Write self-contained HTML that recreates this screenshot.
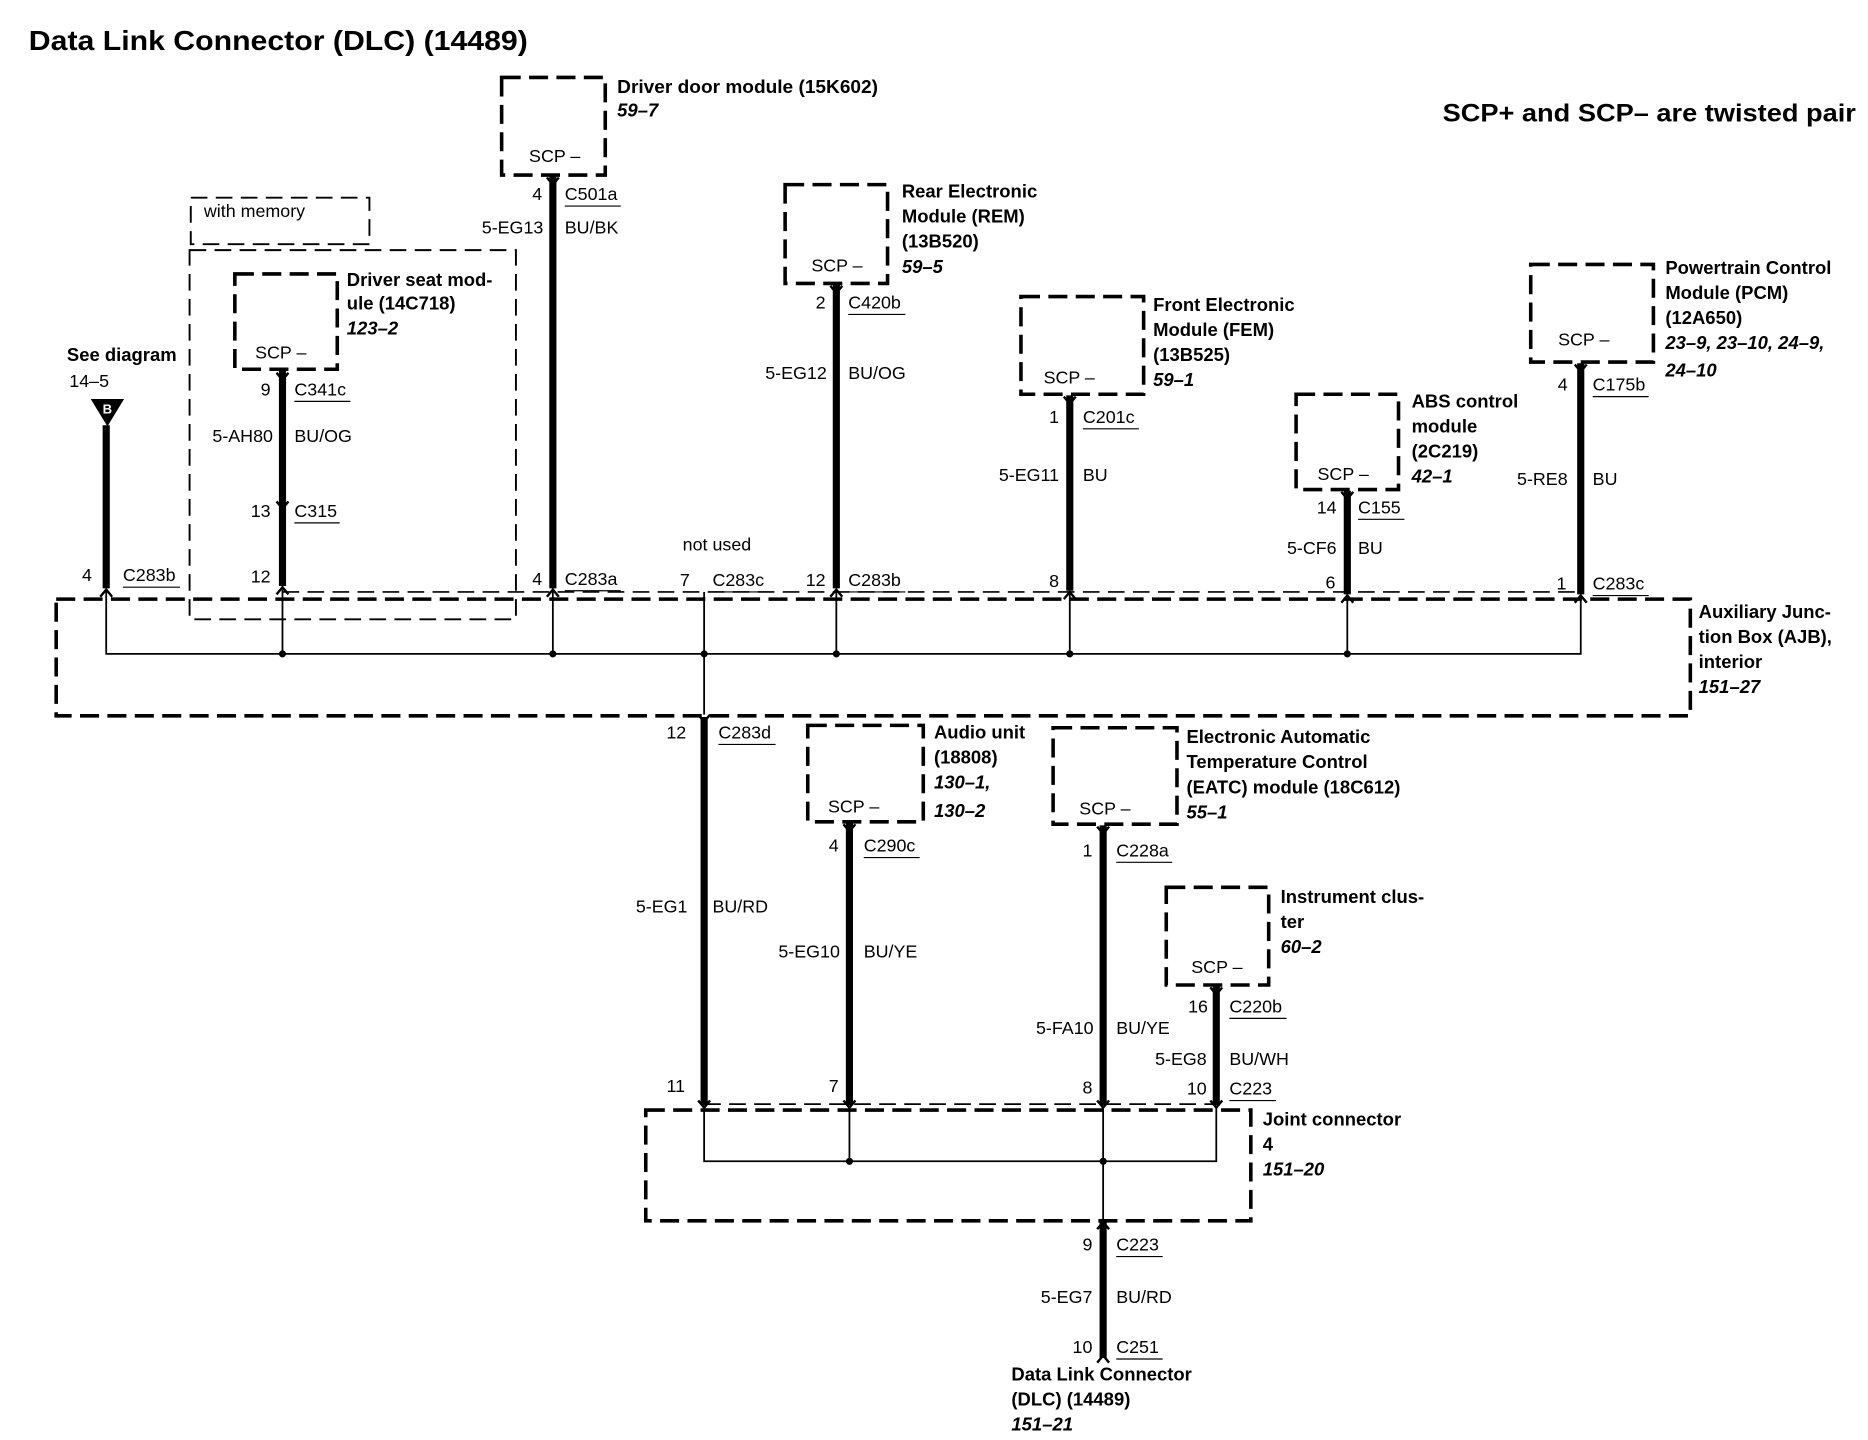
<!DOCTYPE html>
<html><head><meta charset="utf-8">
<style>
html,body{margin:0;padding:0;background:#fff;}
svg{display:block;}
text{font-family:"Liberation Sans",Arial,sans-serif;font-size:15px;fill:#000;}
.b{font-weight:bold;font-size:15.5px;}
.i{font-weight:bold;font-style:italic;font-size:15.5px;}
.r{text-anchor:end;}
.box{fill:none;stroke:#000;stroke-width:3;stroke-dasharray:16,7;}
.tbox{fill:none;stroke:#000;stroke-width:1.6;stroke-dasharray:14,7;}
.w{stroke:#000;stroke-width:6;fill:none;}
.t{stroke:#000;stroke-width:1.5;fill:none;}
.ch{stroke:#000;stroke-width:2;fill:none;}
.u{stroke:#000;stroke-width:1;}
</style></head><body>
<svg width="1868" height="1440" viewBox="0 0 1568 1209" xmlns="http://www.w3.org/2000/svg">
<rect width="1568" height="1209" fill="#fff"/>
<text x="24" y="42" style="font-weight:bold;font-size:23px" textLength="419" lengthAdjust="spacingAndGlyphs">Data Link Connector (DLC) (14489)</text>
<text x="1211" y="102" style="font-weight:bold;font-size:21px" textLength="347" lengthAdjust="spacingAndGlyphs">SCP+ and SCP– are twisted pair</text>

<!-- AJB -->
<rect class="box" x="47" y="503" width="1372" height="98"/>
<text class="b" x="1426" y="519">Auxiliary Junc-</text>
<text class="b" x="1426" y="540">tion Box (AJB),</text>
<text class="b" x="1426" y="561">interior</text>
<text class="i" x="1426" y="582">151–27</text>
<line class="tbox" x1="237" y1="497" x2="1327" y2="497" style="stroke-width:1.4"/>
<path class="t" d="M89 495V549H1327V500"/>
<path class="t" d="M237 495V549M464 495V549M591 497V600M702 495V549M898 497V549M1131 500V549"/>
<g fill="#000"><circle cx="237" cy="549" r="3"/><circle cx="464" cy="549" r="3"/><circle cx="591" cy="549" r="3"/><circle cx="702" cy="549" r="3"/><circle cx="898" cy="549" r="3"/><circle cx="1131" cy="549" r="3"/></g>

<!-- See diagram -->
<text class="b" x="56" y="303">See diagram</text>
<text x="58" y="325">14–5</text>
<path d="M76 335H104L90 358Z" fill="#000"/>
<text x="90" y="347" text-anchor="middle" style="fill:#fff;font-weight:bold;font-size:11px">B</text>
<line class="w" x1="89" y1="357" x2="89" y2="494"/>
<path class="ch" d="M84 501L89 495L94 501"/>
<text x="77" y="488" class="r">4</text>
<text x="103" y="488">C283b</text><line class="u" x1="103" y1="493" x2="151" y2="493"/>

<!-- with memory / seat -->
<rect class="tbox" x="160" y="166" width="150" height="39"/>
<text x="171" y="182">with memory</text>
<rect class="tbox" x="159" y="210" width="274" height="310"/>
<rect class="box" x="197" y="230" width="86" height="80"/>
<text x="214" y="301">SCP –</text>
<text class="b" x="291" y="240">Driver seat mod-</text>
<text class="b" x="291" y="260">ule (14C718)</text>
<text class="i" x="291" y="281">123–2</text>
<line class="w" x1="237" y1="311" x2="237" y2="492"/>
<path class="ch" d="M232 313L237 319L242 313"/>
<path class="ch" d="M232 421L237 427L242 421"/>
<path class="ch" d="M232 499L237 493L242 499"/>
<text x="227" y="332" class="r">9</text><text x="247" y="332">C341c</text><line class="u" x1="247" y1="337" x2="294" y2="337"/>
<text x="229" y="371" class="r">5-AH80</text><text x="247" y="371">BU/OG</text>
<text x="227" y="434" class="r">13</text><text x="247" y="434">C315</text><line class="u" x1="247" y1="439" x2="285" y2="439"/>
<text x="227" y="489" class="r">12</text>

<!-- Driver door -->
<rect class="box" x="421" y="65" width="87" height="82"/>
<text x="444" y="136">SCP –</text>
<text class="b" x="518" y="78" textLength="219" lengthAdjust="spacingAndGlyphs">Driver door module (15K602)</text>
<text class="i" x="518" y="98">59–7</text>
<line class="w" x1="464" y1="148" x2="464" y2="494"/>
<path class="ch" d="M459 149L464 155L469 149"/>
<path class="ch" d="M459 501L464 495L469 501"/>
<text x="455" y="168" class="r">4</text><text x="474" y="168">C501a</text><line class="u" x1="474" y1="173" x2="521" y2="173"/>
<text x="456" y="196" class="r">5-EG13</text><text x="474" y="196">BU/BK</text>
<text x="455" y="491" class="r">4</text><text x="474" y="491">C283a</text><line class="u" x1="474" y1="496" x2="521" y2="496"/>

<!-- not used -->
<text x="573" y="462">not used</text>
<text x="579" y="492" class="r">7</text><text x="598" y="492">C283c</text><line class="u" x1="598" y1="497" x2="645" y2="497"/>

<!-- REM -->
<rect class="box" x="659" y="155" width="86" height="83"/>
<text x="681" y="228">SCP –</text>
<text class="b" x="757" y="166">Rear Electronic</text>
<text class="b" x="757" y="187">Module (REM)</text>
<text class="b" x="757" y="208">(13B520)</text>
<text class="i" x="757" y="229">59–5</text>
<line class="w" x1="702" y1="239" x2="702" y2="494"/>
<path class="ch" d="M697 240L702 246L707 240"/>
<path class="ch" d="M697 501L702 495L707 501"/>
<text x="693" y="259" class="r">2</text><text x="712" y="259">C420b</text><line class="u" x1="712" y1="264" x2="760" y2="264"/>
<text x="694" y="318" class="r">5-EG12</text><text x="712" y="318">BU/OG</text>
<text x="693" y="492" class="r">12</text><text x="712" y="492">C283b</text><line class="u" x1="712" y1="497" x2="760" y2="497"/>

<!-- FEM -->
<rect class="box" x="857" y="249" width="103" height="82"/>
<text x="876" y="322">SCP –</text>
<text class="b" x="968" y="261">Front Electronic</text>
<text class="b" x="968" y="282">Module (FEM)</text>
<text class="b" x="968" y="303">(13B525)</text>
<text class="i" x="968" y="324">59–1</text>
<line class="w" x1="898" y1="332" x2="898" y2="496"/>
<path class="ch" d="M893 333L898 339L903 333"/>
<path class="ch" d="M893 503L898 497L903 503"/>
<text x="889" y="355" class="r">1</text><text x="909" y="355">C201c</text><line class="u" x1="909" y1="360" x2="956" y2="360"/>
<text x="889" y="404" class="r">5-EG11</text><text x="909" y="404">BU</text>
<text x="889" y="493" class="r">8</text>

<!-- ABS -->
<rect class="box" x="1088" y="331" width="86" height="80"/>
<text x="1106" y="403">SCP –</text>
<text class="b" x="1185" y="342">ABS control</text>
<text class="b" x="1185" y="363">module</text>
<text class="b" x="1185" y="384">(2C219)</text>
<text class="i" x="1185" y="405">42–1</text>
<line class="w" x1="1131" y1="412" x2="1131" y2="499"/>
<path class="ch" d="M1126 413L1131 419L1136 413"/>
<path class="ch" d="M1126 506L1131 500L1136 506"/>
<text x="1122" y="431" class="r">14</text><text x="1140" y="431">C155</text><line class="u" x1="1140" y1="436" x2="1179" y2="436"/>
<text x="1122" y="465" class="r">5-CF6</text><text x="1140" y="465">BU</text>
<text x="1121" y="494" class="r">6</text>

<!-- PCM -->
<rect class="box" x="1285" y="222" width="103" height="82"/>
<text x="1308" y="290">SCP –</text>
<text class="b" x="1398" y="230">Powertrain Control</text>
<text class="b" x="1398" y="251">Module (PCM)</text>
<text class="b" x="1398" y="272">(12A650)</text>
<text class="i" x="1398" y="293">23–9, 23–10, 24–9,</text>
<text class="i" x="1398" y="316">24–10</text>
<line class="w" x1="1327" y1="305" x2="1327" y2="499"/>
<path class="ch" d="M1322 306L1327 312L1332 306"/>
<path class="ch" d="M1322 506L1327 500L1332 506"/>
<text x="1316" y="328" class="r">4</text><text x="1337" y="328">C175b</text><line class="u" x1="1337" y1="333" x2="1384" y2="333"/>
<text x="1316" y="407" class="r">5-RE8</text><text x="1337" y="407">BU</text>
<text x="1315" y="495" class="r">1</text><text x="1337" y="495">C283c</text><line class="u" x1="1337" y1="500" x2="1384" y2="500"/>

<!-- C283d wire -->
<line class="w" x1="591" y1="602" x2="591" y2="928"/>
<path class="ch" d="M586 600L591 606L596 600"/>
<text x="576" y="620" class="r">12</text><text x="603" y="620">C283d</text><line class="u" x1="603" y1="625" x2="651" y2="625"/>
<text x="577" y="766" class="r">5-EG1</text><text x="598" y="766">BU/RD</text>
<text x="575" y="917" class="r">11</text>

<!-- Audio -->
<rect class="box" x="678" y="609" width="97" height="81"/>
<text x="695" y="682">SCP –</text>
<text class="b" x="784" y="620">Audio unit</text>
<text class="b" x="784" y="641">(18808)</text>
<text class="i" x="784" y="662">130–1,</text>
<text class="i" x="784" y="686">130–2</text>
<line class="w" x1="713" y1="691" x2="713" y2="928"/>
<path class="ch" d="M708 692L713 698L718 692"/>
<text x="704" y="715" class="r">4</text><text x="725" y="715">C290c</text><line class="u" x1="725" y1="720" x2="772" y2="720"/>
<text x="705" y="804" class="r">5-EG10</text><text x="725" y="804">BU/YE</text>
<text x="704" y="917" class="r">7</text>

<!-- EATC -->
<rect class="box" x="884" y="611" width="104" height="81"/>
<text x="906" y="684">SCP –</text>
<text class="b" x="996" y="624">Electronic Automatic</text>
<text class="b" x="996" y="645">Temperature Control</text>
<text class="b" x="996" y="666">(EATC) module (18C612)</text>
<text class="i" x="996" y="687">55–1</text>
<line class="w" x1="926" y1="693" x2="926" y2="928"/>
<path class="ch" d="M921 694L926 700L931 694"/>
<text x="917" y="719" class="r">1</text><text x="937" y="719">C228a</text><line class="u" x1="937" y1="724" x2="984" y2="724"/>
<text x="918" y="868" class="r">5-FA10</text><text x="937" y="868">BU/YE</text>
<text x="917" y="918" class="r">8</text>

<!-- Instrument cluster -->
<rect class="box" x="979" y="745" width="86" height="82"/>
<text x="1000" y="817">SCP –</text>
<text class="b" x="1075" y="758">Instrument clus-</text>
<text class="b" x="1075" y="779">ter</text>
<text class="i" x="1075" y="800">60–2</text>
<line class="w" x1="1021" y1="828" x2="1021" y2="928"/>
<path class="ch" d="M1016 829L1021 835L1026 829"/>
<text x="1014" y="850" class="r">16</text><text x="1032" y="850">C220b</text><line class="u" x1="1032" y1="855" x2="1080" y2="855"/>
<text x="1013" y="894" class="r">5-EG8</text><text x="1032" y="894">BU/WH</text>
<text x="1013" y="919" class="r">10</text><text x="1032" y="919">C223</text><line class="u" x1="1032" y1="924" x2="1071" y2="924"/>

<!-- Joint connector -->
<rect class="box" x="542" y="932" width="508" height="93"/>
<line class="tbox" x1="591" y1="927" x2="1021" y2="927" style="stroke-width:1.4"/>
<g class="ch"><path d="M586 924L591 930L596 924"/><path d="M708 924L713 930L718 924"/><path d="M921 924L926 930L931 924"/><path d="M1016 924L1021 930L1026 924"/></g>
<path class="t" d="M591 930V975H1021V930M713 930V975M926 930V1025"/>
<g fill="#000"><circle cx="713" cy="975" r="3"/><circle cx="926" cy="975" r="3"/></g>
<text class="b" x="1060" y="945">Joint connector</text>
<text class="b" x="1060" y="966">4</text>
<text class="i" x="1060" y="987">151–20</text>

<!-- DLC -->
<line class="w" x1="926" y1="1026" x2="926" y2="1140"/>
<path class="ch" d="M921 1032L926 1026L931 1032"/>
<path class="ch" d="M921 1144L926 1138L931 1144"/>
<text x="917" y="1050" class="r">9</text><text x="937" y="1050">C223</text><line class="u" x1="937" y1="1055" x2="976" y2="1055"/>
<text x="917" y="1094" class="r">5-EG7</text><text x="937" y="1094">BU/RD</text>
<text x="917" y="1136" class="r">10</text><text x="937" y="1136">C251</text><line class="u" x1="937" y1="1141" x2="976" y2="1141"/>
<text class="b" x="849" y="1159">Data Link Connector</text>
<text class="b" x="849" y="1180">(DLC) (14489)</text>
<text class="i" x="849" y="1201">151–21</text>
</svg>
</body></html>
